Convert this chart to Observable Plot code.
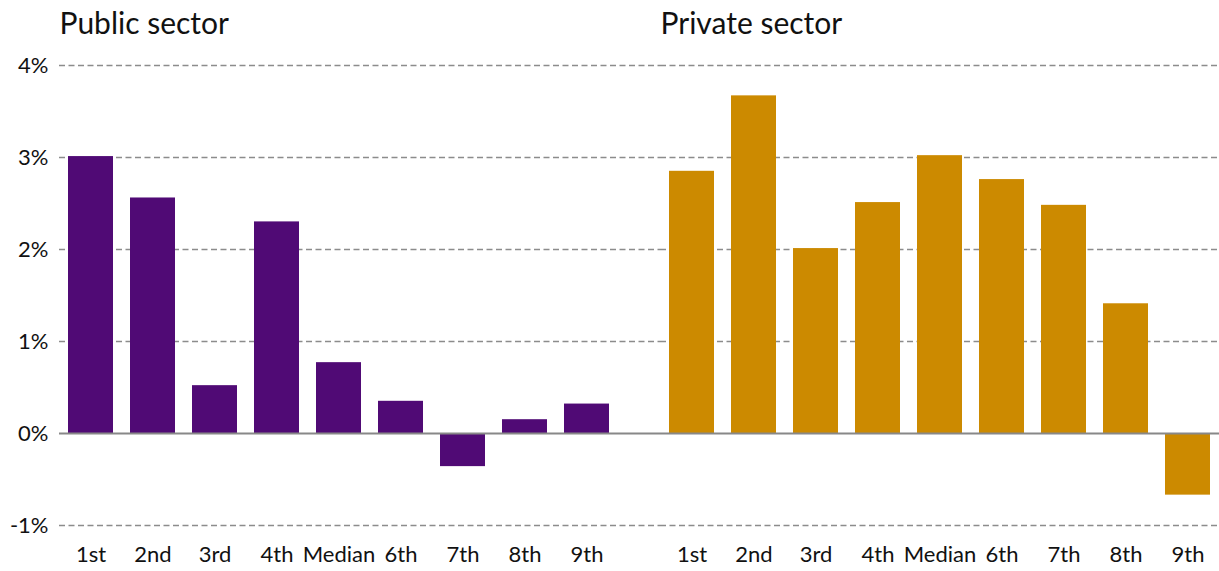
<!DOCTYPE html>
<html>
<head>
<meta charset="utf-8">
<script src="https://cdn.jsdelivr.net/npm/d3@7"></script>
<script src="https://cdn.jsdelivr.net/npm/@observablehq/plot@0.6"></script>
<style>
  body { margin: 0; background: #fff; }
  #chart svg { display: block; }
</style>
</head>
<body>
<div id="chart"></div>
<script>
const sectors = ["Public sector", "Private sector"];
const ranks = ["1st", "2nd", "3rd", "4th", "Median", "6th", "7th", "8th", "9th"];
const publicValues = [3.01, 2.56, 0.52, 2.30, 0.77, 0.35, -0.36, 0.15, 0.32];
const privateValues = [2.85, 3.67, 2.01, 2.51, 3.02, 2.76, 2.48, 1.41, -0.67];
const yTicks = [-1, 0, 1, 2, 3, 4];
const colors = ["#500a75", "#cc8a00"];

const data = [
  ...ranks.map((r, i) => ({sector: sectors[0], rank: r, value: publicValues[i]})),
  ...ranks.map((r, i) => ({sector: sectors[1], rank: r, value: privateValues[i]}))
];
const gridPublic = yTicks.filter(d => d !== 0).map(v => ({sector: sectors[0], v}));
const gridPrivate = yTicks.filter(d => d !== 0).map(v => ({sector: sectors[1], v}));
const zeroPublic = [{sector: sectors[0], v: 0}];
const zeroPrivate = [{sector: sectors[1], v: 0}];

const font = "Lato, 'Open Sans', sans-serif";

const chart = Plot.plot({
  width: 1219,
  height: 571,
  marginTop: 65,
  marginBottom: 46,
  marginLeft: 58,
  marginRight: 0,
  style: {fontFamily: font, fontSize: "22px", color: "#111", background: "#fff"},
  facet: {marginTop: 0, marginBottom: 0, marginLeft: 0, marginRight: 0},
  fx: {domain: sectors, paddingInner: 0.07, paddingOuter: 0, axis: null, label: null},
  x: {domain: ranks, paddingInner: 0.28, paddingOuter: 0.145, label: null, tickSize: 0, tickPadding: 21},
  y: {domain: [-1, 4], ticks: yTicks, tickFormat: d => d + "%", tickSize: 0, tickPadding: 11, label: null},
  color: {domain: sectors, range: colors},
  marks: [
    Plot.ruleY(gridPublic, {fx: "sector", y: "v", stroke: "#8c8c8c", strokeWidth: 1.3, strokeDasharray: "6,3.5", insetRight: -42}),
    Plot.ruleY(gridPrivate, {fx: "sector", y: "v", stroke: "#8c8c8c", strokeWidth: 1.3, strokeDasharray: "6,3.5"}),
    Plot.barY(data, {fx: "sector", x: "rank", y: "value", fill: "sector"}),
    Plot.ruleY(zeroPublic, {fx: "sector", y: "v", stroke: "#888", strokeWidth: 2, insetRight: -42}),
    Plot.ruleY(zeroPrivate, {fx: "sector", y: "v", stroke: "#888", strokeWidth: 2}),
    Plot.text(sectors, {fx: d => d, text: d => d, frameAnchor: "top-left", textAnchor: "start", lineAnchor: "bottom", dx: 0, dy: -32, fontSize: 30, fill: "#111"})
  ]
});
document.getElementById("chart").appendChild(chart);
</script>
</body>
</html>
